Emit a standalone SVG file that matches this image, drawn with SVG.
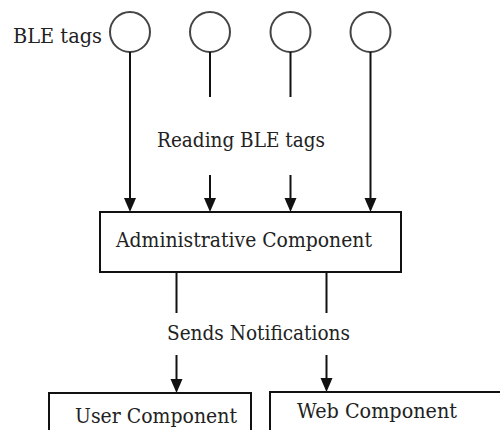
<svg xmlns="http://www.w3.org/2000/svg" width="500" height="430" viewBox="0 0 500 430">
<style>
.t{font-family:'DejaVu Serif','Liberation Serif',serif;font-size:21px;fill:#222}
.tag{fill:none;stroke:#444;stroke-width:2}
.box{fill:#fff;stroke:#111;stroke-width:2}
.ln{stroke:#111;stroke-width:2;fill:none}
.ah{fill:#111}
</style>
<rect width="500" height="430" fill="#fff"/>
<g id="label-ble"><text class="t" x="13" y="43" textLength="89" lengthAdjust="spacingAndGlyphs">BLE tags</text></g>
<g id="tag1"><circle class="tag" cx="130" cy="32" r="20"/></g>
<g id="tag2"><circle class="tag" cx="210" cy="32" r="20"/></g>
<g id="tag3"><circle class="tag" cx="290.5" cy="32" r="20"/></g>
<g id="tag4"><circle class="tag" cx="370.5" cy="32" r="20"/></g>
<g id="admin"><rect class="box" x="100" y="212" width="301" height="60"/><text class="t" x="116" y="247" textLength="256" lengthAdjust="spacingAndGlyphs">Administrative Component</text></g>
<g id="user"><rect class="box" x="49" y="393" width="202" height="45"/><text class="t" x="75" y="423" textLength="162" lengthAdjust="spacingAndGlyphs">User Component</text></g>
<g id="web"><rect class="box" x="270" y="392" width="240" height="45"/><text class="t" x="297" y="418" textLength="160" lengthAdjust="spacingAndGlyphs">Web Component</text></g>
<g id="connectors">
<path class="ln" d="M130,52 V199"/>
<path class="ln" d="M210,52 V97"/>
<path class="ln" d="M210,175 V199"/>
<path class="ln" d="M290.5,52 V97"/>
<path class="ln" d="M290.5,175 V199"/>
<path class="ln" d="M370.5,52 V199"/>
<polygon class="ah" points="124,198 136,198 130,212"/>
<polygon class="ah" points="204,198 216,198 210,212"/>
<polygon class="ah" points="284.5,198 296.5,198 290.5,212"/>
<polygon class="ah" points="364.5,198 376.5,198 370.5,212"/>
<text class="t" x="157" y="147" textLength="168" lengthAdjust="spacingAndGlyphs">Reading BLE tags</text>
<path class="ln" d="M176.5,273 V313"/>
<path class="ln" d="M176.5,355 V380"/>
<path class="ln" d="M326.5,273 V313"/>
<path class="ln" d="M326.5,355 V379"/>
<polygon class="ah" points="170.5,379 182.5,379 176.5,393"/>
<polygon class="ah" points="320.5,378 332.5,378 326.5,392"/>
<text class="t" x="167" y="340" textLength="183" lengthAdjust="spacingAndGlyphs">Sends Notifications</text>
</g>
</svg>
